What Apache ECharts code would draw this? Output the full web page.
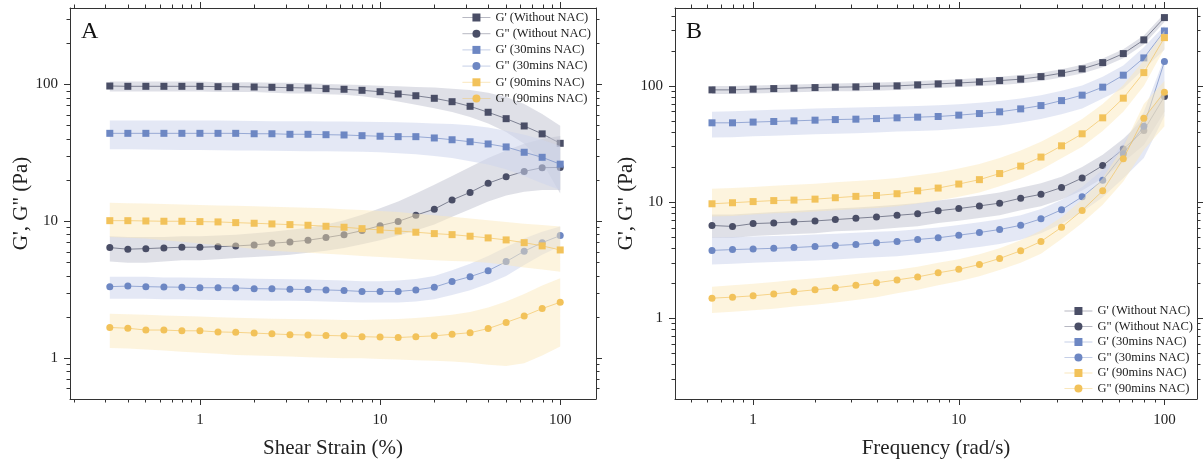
<!DOCTYPE html>
<html><head><meta charset="utf-8">
<script src="https://cdn.jsdelivr.net/npm/echarts@6/dist/echarts.min.js"></script>
<style>html,body{margin:0;padding:0;background:#fff}#c{width:1203px;height:466px}</style>
</head><body><div id="c"></div>
<script>
// ---------- DATA ----------
const seriesNames = ["G' (Without NAC)", "G\" (Without NAC)", "G' (30mins NAC)", "G\" (30mins NAC)", "G' (90mins NAC)", "G\" (90mins NAC)"];

// Panel A: amplitude sweep (shear strain %)
const strain = [0.316,0.398,0.501,0.631,0.794,1,1.26,1.58,2,2.51,3.16,3.98,5.01,6.31,7.94,10,12.6,15.8,20,25.1,31.6,39.8,50.1,63.1,79.4,100];
const A_Gp_without  = [97.5,97.0,97.0,97.0,97.0,97.0,96.4,96.4,95.9,95.4,94.8,94.3,93.2,92.3,90.7,88.6,85.3,82.8,79.3,74.9,69.3,62.7,56.3,49.8,43.6,37.2];
const A_Gp_without_hi = [105,105,105,105,105,105,104,104,104,103,103,102,101,100,99,98,97,96,95,93,91,87,81,72,61,50];
const A_Gp_without_lo = [89,89,89,89,89,89,88,88,88,87,86,86,85,84,82,79,75,71,67,63,58,52,45,37,27,16];
const A_Gpp_without = [6.44,6.27,6.33,6.41,6.48,6.48,6.54,6.62,6.74,6.93,7.08,7.29,7.62,8.01,8.57,9.32,10.0,11.1,12.3,14.35,16.3,19.0,21.2,23.2,24.7,24.8];
const A_Gpp_without_hi = [7.8,7.7,7.7,7.7,7.8,7.8,7.9,8.0,8.2,8.4,8.7,9.0,9.5,10.2,11.2,12.5,14.0,16,18.5,21.5,25,29,33,37,40,42];
const A_Gpp_without_lo = [5.1,5.0,5.0,5.1,5.2,5.2,5.3,5.4,5.5,5.6,5.7,5.9,6.1,6.4,6.8,7.3,7.9,8.6,9.5,10.8,12.3,14,15.5,16.5,17,17];
const A_Gp_30  = [44.0,44.0,44.0,44.0,44.0,44.0,44.0,44.0,43.7,43.7,43.3,43.3,43.0,42.8,42.3,41.9,41.6,41.6,40.7,39.5,38.2,36.8,35.0,32.0,29.4,26.2];
const A_Gp_30_hi = [54.5,54.5,54.5,54.5,54.5,54.5,54.5,54.3,54.2,54,54,53.8,53.7,53.6,53.5,53.3,53,52.5,52,51.5,50.5,48.5,46,43,39.5,35.5];
const A_Gp_30_lo = [33.7,33.6,33.5,33.4,33.3,33.2,33.1,33,32.9,32.8,32.7,32.6,32.5,32.4,32.3,32,31.5,31,30,29,27.5,26,24,21.5,19,17];
const A_Gpp_30 = [3.34,3.37,3.34,3.32,3.31,3.28,3.28,3.27,3.23,3.22,3.20,3.18,3.16,3.13,3.08,3.08,3.08,3.16,3.31,3.64,3.95,4.37,5.09,6.06,7.0,7.88];
const A_Gpp_30_hi = [3.95,3.95,3.95,3.9,3.9,3.88,3.87,3.85,3.82,3.8,3.78,3.76,3.74,3.7,3.65,3.65,3.7,3.8,4.0,4.4,4.9,5.6,6.5,7.5,8.4,9.2];
const A_Gpp_30_lo = [2.72,2.72,2.72,2.7,2.7,2.68,2.67,2.66,2.65,2.64,2.63,2.62,2.6,2.58,2.56,2.56,2.56,2.6,2.7,2.9,3.15,3.5,4.0,4.8,5.7,6.6];
const A_Gp_90  = [10.13,10.13,10.08,10.03,10.03,9.97,9.92,9.80,9.70,9.59,9.48,9.38,9.22,9.07,8.86,8.67,8.52,8.34,8.15,8.01,7.80,7.58,7.33,7.00,6.63,6.19];
const A_Gp_90_hi = [13.7,13.6,13.5,13.4,13.3,13.2,13.1,13.0,12.9,12.8,12.7,12.6,12.5,12.3,12.1,11.9,11.7,11.4,11.1,10.8,10.5,10.2,9.9,9.6,9.4,9.2];
const A_Gp_90_lo = [7.7,7.6,7.5,7.3,7.1,6.9,6.7,6.5,6.3,6.1,6.0,5.9,5.8,5.7,5.6,5.5,5.4,5.3,5.2,5.15,5.1,5.0,4.8,4.6,4.45,4.3];
const A_Gpp_90 = [1.68,1.66,1.61,1.61,1.59,1.59,1.56,1.55,1.53,1.51,1.49,1.48,1.47,1.46,1.44,1.43,1.42,1.44,1.46,1.50,1.54,1.65,1.83,2.04,2.31,2.57];
const A_Gpp_90_hi = [2.12,2.1,2.08,2.06,2.04,2.02,2.0,1.98,1.96,1.95,1.94,1.93,1.92,1.91,1.91,1.92,1.94,1.97,2.02,2.08,2.18,2.35,2.6,2.95,3.4,3.85];
const A_Gpp_90_lo = [1.19,1.18,1.16,1.14,1.12,1.1,1.08,1.06,1.05,1.04,1.03,1.02,1.01,1.0,1.0,0.99,0.98,0.97,0.96,0.95,0.93,0.9,0.88,0.92,1.05,1.22];

// Panel B: frequency sweep (rad/s)
const freq = [0.631,0.794,1,1.26,1.58,2,2.51,3.16,3.98,5.01,6.31,7.94,10,12.6,15.8,20,25.1,31.6,39.8,50.1,63.1,79.4,100];
const B_Gp_without  = [92.4,92.4,93.7,94.8,95.5,96.7,97.5,98.0,99.4,100,102,104,106,108.2,111.1,114.2,120.2,128.6,140,158.6,189.6,248.9,387];
const B_Gp_without_hi = [100,100,101,102,103,104,105,106,107,108,110,112,114,117,120,124,130,139,152,172,207,272,420];
const B_Gp_without_lo = [85,85,86,87,88,89,90,90,91,92,94,96,98,100,102,105,110,118,128,145,173,227,355];
const B_Gpp_without = [6.29,6.17,6.53,6.62,6.75,6.88,7.07,7.26,7.45,7.69,7.94,8.42,8.80,9.27,9.79,10.8,11.66,13.34,16.1,20.6,28.6,41.3,80.9];
const B_Gpp_without_hi = [7.8,7.8,8.0,8.2,8.4,8.6,8.8,9.0,9.2,9.5,9.8,10.3,10.8,11.4,12.1,13.3,14.5,16.5,20,25.5,35,52,92];
const B_Gpp_without_lo = [4.9,4.9,5.1,5.2,5.3,5.4,5.6,5.7,5.8,6.0,6.2,6.6,6.9,7.3,7.7,8.5,9.2,10.5,12.6,16,22,31,60];
const B_Gp_30  = [48.1,48.1,48.8,49.4,50.0,50.7,51.3,51.7,52.3,53.1,53.8,54.5,56.0,57.8,59.8,63.4,67.7,74.7,83.2,97.5,123.6,174.1,296.8];
const B_Gp_30_hi = [60,60.5,61.5,62.3,63,63.8,64.5,65.2,65.8,66.4,67.2,68,69.5,71.5,74,78,83,91,101,120,150,215,330];
const B_Gp_30_lo = [36,36.2,36.8,37.3,37.8,38.3,38.8,39.2,39.8,40.4,41,41.6,42.7,44,45.5,48.5,52,57,64,78,95,140,205];
const B_Gpp_30 = [3.84,3.90,3.95,4.00,4.06,4.15,4.23,4.32,4.46,4.58,4.77,4.93,5.19,5.47,5.81,6.31,7.17,8.59,11.1,15.4,26,45,162];
const B_Gpp_30_hi = [4.95,5.0,5.05,5.1,5.15,5.25,5.35,5.45,5.55,5.65,5.85,6.05,6.35,6.7,7.1,7.7,8.7,10.4,13.5,19,32,60,175];
const B_Gpp_30_lo = [2.9,2.95,3.0,3.05,3.1,3.15,3.2,3.28,3.35,3.42,3.55,3.7,3.9,4.1,4.35,4.75,5.4,6.5,8.2,11,16,24,55];
const B_Gp_90  = [9.67,9.87,10.1,10.3,10.4,10.6,10.9,11.2,11.4,11.8,12.5,13.2,14.3,15.6,17.6,20.4,24.4,30.5,38.7,53.1,78.4,130.1,260.1];
const B_Gp_90_hi = [13,13.2,13.5,13.8,14.1,14.4,14.8,15.2,15.6,16.1,17,18,19.5,21.3,24,27.8,33,41,52,70,102,165,300];
const B_Gp_90_lo = [7.5,7.6,7.8,8.0,8.1,8.3,8.5,8.7,8.9,9.2,9.7,10.3,11.1,12.1,13.7,15.9,19,23.8,30,41,60,100,210];
const B_Gpp_90 = [1.49,1.52,1.56,1.62,1.69,1.76,1.83,1.92,2.02,2.14,2.27,2.46,2.64,2.90,3.27,3.81,4.58,6.06,8.48,12.5,23.6,52.7,88.3];
const B_Gpp_90_hi = [1.87,1.92,1.98,2.05,2.13,2.21,2.3,2.4,2.51,2.62,2.78,3.0,3.22,3.55,4.0,4.7,5.7,7.4,10.5,16,30,70,110];
const B_Gpp_90_lo = [1.11,1.14,1.17,1.21,1.26,1.31,1.37,1.44,1.52,1.64,1.76,1.92,2.08,2.3,2.6,3.0,3.6,4.8,6.6,9.5,15,28,45];

// Axis ticks
const majorTicks = [0.1, 1, 10, 100, 1000];
const minorTicks = [0.2,0.3,0.4,0.5,0.6,0.7,0.8,0.9,2,3,4,5,6,7,8,9,20,30,40,50,60,70,80,90,200,300,400,500,600,700,800,900];
const panelLetters = ['A', 'B'];
const xTitles = ['Shear Strain (%)', 'Frequency (rad/s)'];
const yTitle = 'G\', G" (Pa)';

// ---------- CHART ----------
const FONT = "'Liberation Serif','Times New Roman',Times,serif";
const colors = ['#4a4e66', '#4a4e66', '#6d87c3', '#6d87c3', '#f2c25a', '#f2c25a'];
const bandFill = ['rgba(196,199,212,0.55)', 'rgba(196,199,212,0.55)', 'rgba(205,213,236,0.55)', 'rgba(205,213,236,0.55)', 'rgba(251,231,186,0.48)', 'rgba(251,231,186,0.48)'];
const symbols = ['rect', 'circle', 'rect', 'circle', 'rect', 'circle'];

const panels = [
  { x: strain, ext: { x: [0.19, 158], y: [0.505, 362] },
    sets: [[A_Gp_without, A_Gp_without_lo, A_Gp_without_hi], [A_Gpp_without, A_Gpp_without_lo, A_Gpp_without_hi],
           [A_Gp_30, A_Gp_30_lo, A_Gp_30_hi], [A_Gpp_30, A_Gpp_30_lo, A_Gpp_30_hi],
           [A_Gp_90, A_Gp_90_lo, A_Gp_90_hi], [A_Gpp_90, A_Gpp_90_lo, A_Gpp_90_hi]] },
  { x: freq, ext: { x: [0.417, 144], y: [0.202, 468] },
    sets: [[B_Gp_without, B_Gp_without_lo, B_Gp_without_hi], [B_Gpp_without, B_Gpp_without_lo, B_Gpp_without_hi],
           [B_Gp_30, B_Gp_30_lo, B_Gp_30_hi], [B_Gpp_30, B_Gpp_30_lo, B_Gpp_30_hi],
           [B_Gp_90, B_Gp_90_lo, B_Gp_90_hi], [B_Gpp_90, B_Gpp_90_lo, B_Gpp_90_hi]] }
];

const AX = '#333';
function axisSet(dim, grid, min, max, name) {
  const inR = v => v >= min && v <= max;
  const maj = majorTicks.filter(inR), mnr = minorTicks.filter(inR);
  const pos = dim === 'x' ? ['bottom', 'top'] : ['left', 'right'];
  const base = { type: 'log', logBase: 10, gridIndex: grid, min: min, max: max, splitLine: { show: false }, minorTick: { show: false }, minorSplitLine: { show: false }, silent: true };
  const line = { show: true, onZero: false, lineStyle: { color: AX, width: 1 } };
  const tick = (vals, len) => ({ show: true, inside: false, length: len, customValues: vals, lineStyle: { color: AX, width: 1 } });
  return [
    Object.assign({}, base, { position: pos[0], axisLine: line, axisTick: tick(maj, 6),
      axisLabel: { show: true, customValues: maj, margin: dim === 'x' ? 14 : 12, fontFamily: FONT, fontSize: 15, color: '#222',
        formatter: v => String(Math.round(v * 1000) / 1000) },
      name: name, nameLocation: 'middle', nameGap: dim === 'x' ? 39 : 38, nameTextStyle: { fontFamily: FONT, fontSize: 21, color: '#222' } }),
    Object.assign({}, base, { position: pos[0], axisLine: { show: false, onZero: false }, axisTick: tick(mnr, 3.5), axisLabel: { show: false } }),
    Object.assign({}, base, { position: pos[1], axisLine: line, axisTick: tick(maj, 6), axisLabel: { show: false } }),
    Object.assign({}, base, { position: pos[1], axisLine: { show: false, onZero: false }, axisTick: tick(mnr, 3.5), axisLabel: { show: false } })
  ];
}

const xAxes = [], yAxes = [], series = [];
panels.forEach((p, pi) => {
  xAxes.push(...axisSet('x', pi, p.ext.x[0], p.ext.x[1], xTitles[pi]));
  yAxes.push(...axisSet('y', pi, p.ext.y[0], p.ext.y[1], yTitle));
  p.sets.forEach((set, si) => {
    const vals = set[0], lo = set[1], hi = set[2], xs = p.x;
    series.push({
      type: 'custom', name: 'band' + pi + si, xAxisIndex: pi * 4, yAxisIndex: pi * 4, z: 2 + 2 * si, silent: true, clip: true,
      data: xs.map((x, i) => [x, lo[i], hi[i]]), encode: { x: 0, y: [1, 2] },
      renderItem: (params, api) => {
        if (params.dataIndex !== 0) return null;
        const pts = [];
        for (let i = 0; i < xs.length; i++) pts.push(api.coord([xs[i], hi[i]]));
        for (let i = xs.length - 1; i >= 0; i--) pts.push(api.coord([xs[i], lo[i]]));
        return { type: 'polygon', shape: { points: pts }, style: { fill: bandFill[si], stroke: null } };
      }
    });
    series.push({
      type: 'line', name: seriesNames[si], xAxisIndex: pi * 4, yAxisIndex: pi * 4, z: 3 + 2 * si,
      data: xs.map((x, i) => [x, vals[i]]), symbol: symbols[si], symbolSize: 7, showSymbol: true,
      itemStyle: { color: colors[si], opacity: 1 }, lineStyle: { color: colors[si], width: 1, opacity: 0.65 },
      emphasis: { disabled: true }, animation: false
    });
  });
});

const legendBase = {
  data: seriesNames, orient: 'vertical', itemWidth: 28, itemHeight: 10, itemGap: 3.2, padding: 0, selectedMode: false,
  textStyle: { fontFamily: FONT, fontSize: 12.5, color: '#222' }, itemStyle: { opacity: 1 },
  lineStyle: { width: 1, opacity: 0.4 }
};

const chart = echarts.init(document.getElementById('c'), null, { renderer: 'canvas' });
chart.setOption({
  animation: false,
  backgroundColor: '#fff',
  title: panelLetters.map((t, i) => ({ text: t, left: i === 0 ? 81 : 686, top: 20, padding: 0,
    textStyle: { fontFamily: FONT, fontSize: 24, fontWeight: 'normal', color: '#111' } })),
  grid: [
    { left: 70, right: 607, top: 8, bottom: 67, containLabel: false, outerBoundsMode: 'none' },
    { left: 675, right: 6, top: 8, bottom: 67, containLabel: false, outerBoundsMode: 'none' }
  ],
  legend: [
    Object.assign({}, legendBase, { right: 612, top: 11 }),
    Object.assign({}, legendBase, { right: 10, top: 304.5, itemGap: 2.5 })
  ],
  xAxis: xAxes,
  yAxis: yAxes,
  series: series
});
</script>
</body></html>
